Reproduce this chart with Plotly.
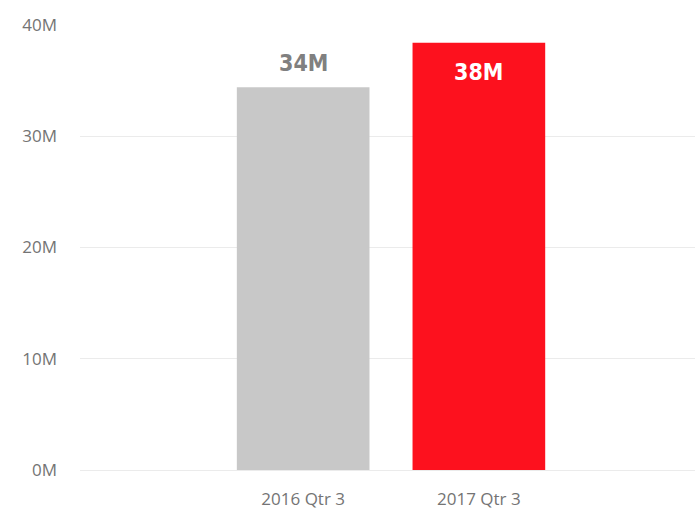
import plotly.graph_objects as go

# Quarterly values
quarters = ["2016 Qtr 3", "2017 Qtr 3"]
values = [34.4e6, 38.4e6]
labels = ["34M", "38M"]
colors = ["#c8c8c8", "#fd111e"]

tick_vals = [0, 10e6, 20e6, 30e6, 40e6]
tick_text = ["0M", "10M", "20M", "30M", "40M"]

label_font = "DejaVu Sans Condensed, DejaVu Sans"
tick_font = "Open Sans, DejaVu Sans"

fig = go.Figure()

fig.add_trace(go.Bar(
    x=quarters, y=values,
    marker=dict(color=colors, line=dict(width=0)),
    width=0.755,
    hoverinfo="x+y",
))

# gray label sits above its bar
fig.add_annotation(
    x=quarters[0], y=values[0], text=labels[0], showarrow=False,
    yanchor="bottom", yshift=9,
    font=dict(family=label_font, size=23, color="#808080", weight="bold"),
)
# red label sits inside at the top
fig.add_annotation(
    x=quarters[1], y=values[1], text=labels[1], showarrow=False,
    yanchor="top", yshift=-14,
    font=dict(family=label_font, size=23, color="white", weight="bold"),
)

fig.update_layout(
    width=695, height=515,
    margin=dict(l=80, r=0, t=25, b=45),
    paper_bgcolor="white", plot_bgcolor="white",
    showlegend=False,
    font=dict(family=tick_font, color="#747474", size=17),
    xaxis=dict(
        type="category",
        categoryorder="array", categoryarray=quarters,
        range=[-1.27, 2.23],
        showgrid=False, zeroline=False, showline=False,
        tickfont=dict(size=17, color="#747474"),
        ticklabelstandoff=17,
    ),
    yaxis=dict(
        range=[0, 40e6],
        tickvals=tick_vals, ticktext=tick_text,
        showgrid=True, gridcolor="#ebebeb", gridwidth=1,
        zeroline=True, zerolinecolor="#ebebeb", zerolinewidth=1,
        showline=False,
        tickfont=dict(size=17, color="#747474"),
        ticklabelstandoff=22,
    ),
)

# drop the default page margin so the figure fills the window exactly
fig.write_html(
    "out.html",
    config={"displayModeBar": False},
    post_script="document.body.style.margin='0';document.body.style.overflow='hidden';",
)
